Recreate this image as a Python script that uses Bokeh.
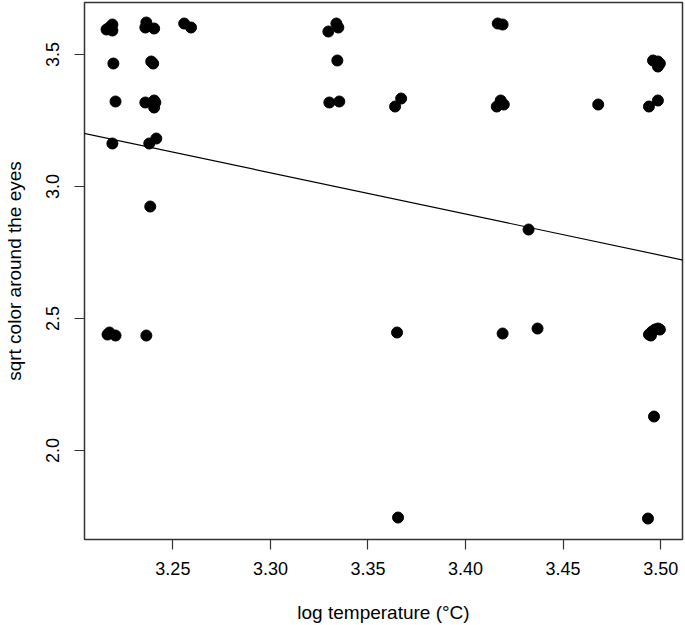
from bokeh.plotting import figure
from bokeh.models import Range1d, FixedTicker, Slope, CustomJSTickFormatter
from bokeh.embed import file_html
from bokeh.resources import INLINE

# ---- data ----
log_temp = [
    3.2160, 3.2175, 3.2190, 3.2190, 3.2195, 3.2206, 3.2190, 3.2165, 3.2175, 3.2206,
    3.2364, 3.2359, 3.2404, 3.2389, 3.2399, 3.2359, 3.2404, 3.2410, 3.2404, 3.2379,
    3.2415, 3.2384, 3.2364,
    3.2558, 3.2593,
    3.3297, 3.3338, 3.3348, 3.3343, 3.3302, 3.3353,
    3.3639, 3.3670, 3.3649, 3.3654,
    3.4165, 3.4190, 3.4160, 3.4180, 3.4196, 3.4190, 3.4323, 3.4369, 3.4680,
    3.4961, 3.4986, 3.4996, 3.4986, 3.4940, 3.4986, 3.4940, 3.4956, 3.4971, 3.4986,
    3.4996, 3.4950, 3.4966, 3.4935,
]
sqrt_color = [
    3.5947, 3.6023, 3.6136, 3.5909, 3.4659, 3.3220, 3.1629, 2.4394, 2.4470, 2.4356,
    3.6212, 3.6023, 3.5985, 3.4735, 3.4659, 3.3182, 3.3258, 3.3182, 3.2992, 3.1629,
    3.1818, 2.9242, 2.4356,
    3.6174, 3.6023,
    3.5871, 3.6174, 3.6023, 3.4773, 3.3182, 3.3220,
    3.3030, 3.3333, 2.4470, 1.7462,
    3.6174, 3.6136, 3.3030, 3.3258, 3.3106, 2.4432, 2.8371, 2.4621, 3.3106,
    3.4773, 3.4735, 3.4659, 3.4545, 3.3030, 3.3258, 2.4394, 2.4508, 2.4583, 2.4621,
    2.4583, 2.4356, 2.1288, 1.7424,
]
x_ticks = [3.25, 3.30, 3.35, 3.40, 3.45, 3.50]
y_ticks = [2.0, 2.5, 3.0, 3.5]
fit_intercept = 8.21
fit_slope = -1.563

FONT = "Liberation Sans"

p = figure(
    width=684, height=625,
    output_backend="svg", toolbar_location=None,
    x_range=Range1d(3.2047, 3.5112), y_range=Range1d(1.663, 3.697),
    min_border_left=82, min_border_right=2, min_border_top=2, min_border_bottom=0,
    background_fill_color="white", border_fill_color="white",
)
p.grid.visible = False
p.outline_line_color = "#333333"
p.outline_line_width = 1.5

p.scatter(log_temp, sqrt_color, size=11, color="black", line_color="black")
p.add_layout(Slope(gradient=fit_slope, y_intercept=fit_intercept,
                   line_color="black", line_width=1.2))

for ax in (p.xaxis[0], p.yaxis[0]):
    ax.axis_line_color = None
    ax.major_tick_line_color = "#333333"
    ax.major_tick_line_width = 1.2
    ax.major_tick_out = 10
    ax.major_tick_in = 0
    ax.minor_tick_line_color = None
    ax.major_label_text_font = FONT
    ax.major_label_text_font_size = "18px"
    ax.major_label_text_color = "black"
    ax.axis_label_text_font = FONT
    ax.axis_label_text_font_size = "19px"
    ax.axis_label_text_font_style = "normal"
    ax.axis_label_text_color = "black"

p.xaxis[0].ticker = FixedTicker(ticks=x_ticks)
p.xaxis[0].formatter = CustomJSTickFormatter(code="return tick.toFixed(2);")
p.xaxis[0].axis_label = "log temperature (°C)"
p.xaxis[0].major_label_standoff = 12
p.xaxis[0].axis_label_standoff = 24

p.yaxis[0].ticker = FixedTicker(ticks=y_ticks)
p.yaxis[0].formatter = CustomJSTickFormatter(code="return tick.toFixed(1);")
p.yaxis[0].axis_label = "sqrt color around the eyes"
p.yaxis[0].major_label_orientation = "vertical"
p.yaxis[0].major_label_standoff = 15
p.yaxis[0].axis_label_standoff = 19

open("out.html", "w").write(file_html(p, INLINE))
